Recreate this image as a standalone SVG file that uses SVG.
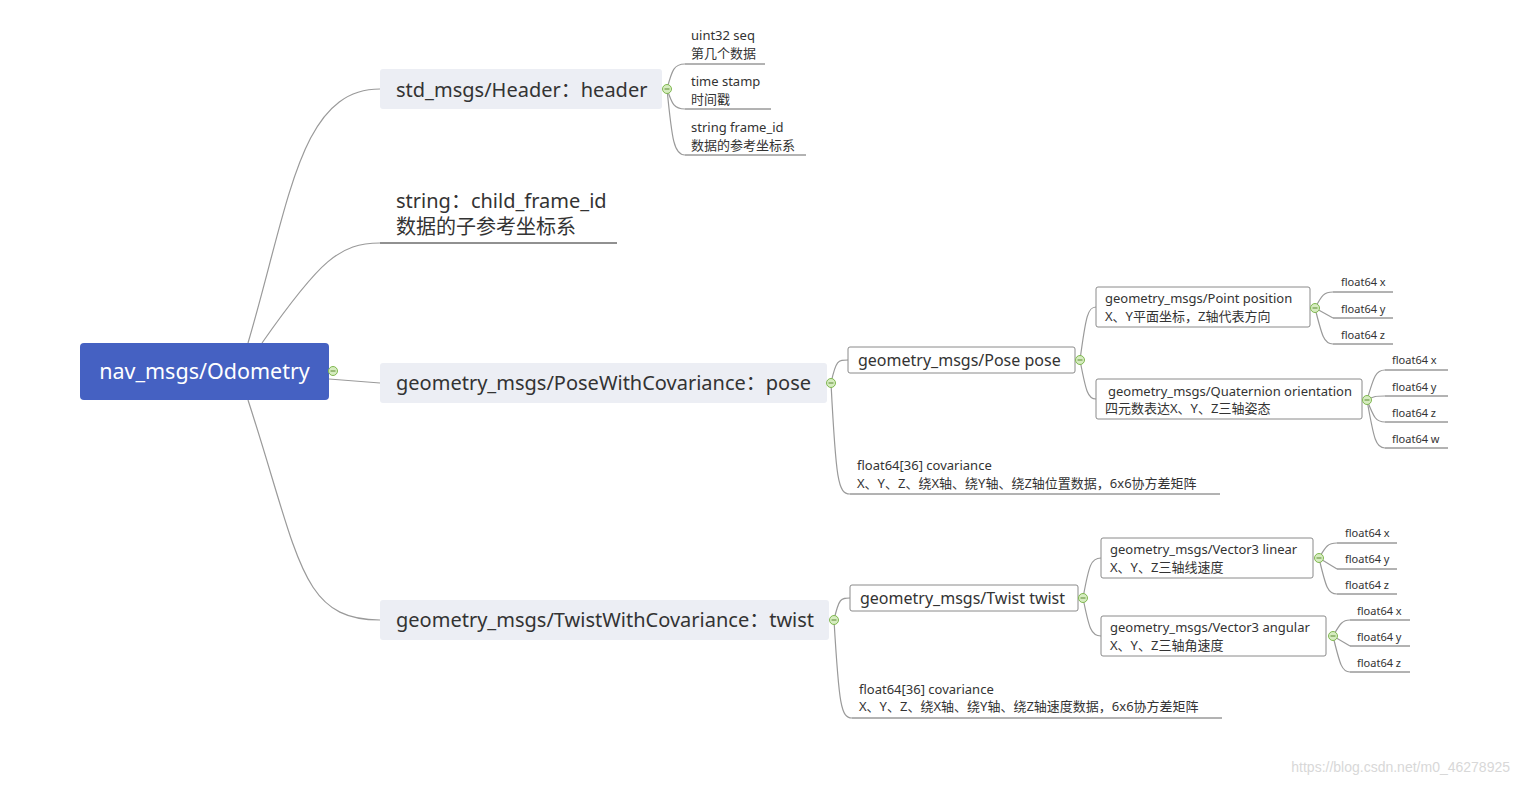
<svg xmlns="http://www.w3.org/2000/svg" width="1519" height="785" viewBox="0 0 1519 785">
<defs>
<style>
text{font-family:"Noto Sans","Noto Sans CJK SC",sans-serif;fill:#333}
.l1{font-size:20px}
.l2{font-size:16px}
.l3{font-size:13px}
.l4{font-size:11px}
.b1{fill:#eceef4}
.b2{fill:#fff;stroke:#8a8a8a;stroke-width:1}
.c{fill:none;stroke:#9a9a9a;stroke-width:1.2}
.u{fill:none;stroke:#666;stroke-width:1}
</style>
<g id="tog"><circle r="4.5" fill="#d6ecc0" stroke="#80b850" stroke-width="1"/><line x1="-2.5" y1="0" x2="2.5" y2="0" stroke="#5a8a30" stroke-width="1"/></g>
</defs>
<rect width="1519" height="785" fill="#fff"/>
<g id="connectors">
<path class="c" d="M248,343 C290,200 300,89 380,89"/>
<path class="c" d="M262,343 C320,260 340,243 380,243"/>
<path class="c" d="M329,379 L380,383"/>
<path class="c" d="M248,400 C300,560 300,620 380,620"/>
<path class="c" d="M667,89 C672,70 674,64 685,64"/>
<path class="c" d="M667,89 C672,104 674,109 685,109"/>
<path class="c" d="M667,89 C672,140 674,155 685,155"/>
<path class="c" d="M831,383 C836,360 838,360 848,360"/>
<path class="c" d="M831,383 C836,480 838,494 850,494"/>
<path class="c" d="M1080,360 C1086,315 1088,307 1096,307"/>
<path class="c" d="M1080,360 C1086,392 1088,399 1096,399"/>
<path class="c" d="M1315,308 C1322,295 1324,292 1333,292"/>
<path class="c" d="M1315,308 L1333,318"/>
<path class="c" d="M1315,308 C1322,336 1324,344 1333,344"/>
<path class="c" d="M1367,400 C1374,376 1376,370 1385,370"/>
<path class="c" d="M1367,400 C1374,396 1376,396 1385,396"/>
<path class="c" d="M1367,400 C1374,418 1376,422 1385,422"/>
<path class="c" d="M1367,400 C1374,440 1376,448 1385,448"/>
<path class="c" d="M834,620 C839,598 841,598 850,598"/>
<path class="c" d="M834,620 C839,705 841,718 852,718"/>
<path class="c" d="M1083,598 C1089,565 1091,558 1101,558"/>
<path class="c" d="M1083,598 C1089,628 1091,636 1101,636"/>
<path class="c" d="M1319,558 C1326,546 1328,543 1337,543"/>
<path class="c" d="M1319,558 L1337,569"/>
<path class="c" d="M1319,558 C1326,588 1328,594 1337,594"/>
<path class="c" d="M1333,636 C1340,624 1342,620 1350,620"/>
<path class="c" d="M1333,636 L1350,646"/>
<path class="c" d="M1333,636 C1340,665 1342,672 1350,672"/>
<g class="u">
<line x1="685" y1="64" x2="765" y2="64"/>
<line x1="685" y1="109" x2="771" y2="109"/>
<line x1="685" y1="155" x2="806" y2="155"/>
<line x1="380" y1="243" x2="617" y2="243" stroke="#222"/>
<line x1="850" y1="494" x2="1220" y2="494"/>
<line x1="852" y1="718" x2="1222" y2="718"/>
<line x1="1333" y1="292" x2="1393" y2="292"/>
<line x1="1333" y1="318" x2="1393" y2="318"/>
<line x1="1333" y1="344" x2="1393" y2="344"/>
<line x1="1385" y1="370" x2="1448" y2="370"/>
<line x1="1385" y1="396" x2="1448" y2="396"/>
<line x1="1385" y1="422" x2="1448" y2="422"/>
<line x1="1385" y1="448" x2="1448" y2="448"/>
<line x1="1337" y1="543" x2="1397" y2="543"/>
<line x1="1337" y1="569" x2="1397" y2="569"/>
<line x1="1337" y1="594" x2="1397" y2="594"/>
<line x1="1350" y1="620" x2="1410" y2="620"/>
<line x1="1350" y1="646" x2="1410" y2="646"/>
<line x1="1350" y1="672" x2="1410" y2="672"/>
</g>
</g>
<g id="root">
<rect x="80" y="343" width="249" height="57" rx="4" fill="#4561c2"/>
<text x="204.5" y="379" text-anchor="middle" style="fill:#fff;font-size:21.5px">nav_msgs/Odometry</text>
<use href="#tog" x="333" y="371"/>
</g>
<g id="header">
<rect class="b1" x="380" y="69" width="282" height="40" rx="3"/>
<text class="l1" x="396" y="97">std_msgs/Header：header</text>
<use href="#tog" x="667" y="89"/>
</g>
<g id="seq"><text class="l3" x="691" y="40">uint32 seq</text><text class="l3" x="691" y="58">第几个数据</text></g>
<g id="stamp"><text class="l3" x="691" y="86">time stamp</text><text class="l3" x="691" y="104">时间戳</text></g>
<g id="frame_id"><text class="l3" x="691" y="132">string frame_id</text><text class="l3" x="691" y="150">数据的参考坐标系</text></g>
<g id="child_frame"><text class="l1" x="396" y="208">string：child_frame_id</text><text class="l1" x="396" y="234">数据的子参考坐标系</text></g>
<g id="posecov">
<rect class="b1" x="380" y="363" width="447" height="40" rx="3"/>
<text class="l1" x="396" y="390">geometry_msgs/PoseWithCovariance：pose</text>
<use href="#tog" x="831" y="383"/>
</g>
<g id="pose">
<rect class="b2" x="848" y="347" width="227" height="26" rx="2"/>
<text class="l2" x="858" y="366">geometry_msgs/Pose pose</text>
<use href="#tog" x="1080" y="360"/>
</g>
<g id="position">
<rect class="b2" x="1096" y="287" width="214" height="40" rx="2"/>
<text class="l3" x="1105" y="303">geometry_msgs/Point position</text>
<text class="l3" x="1105" y="321">X、Y平面坐标，Z轴代表方向</text>
<use href="#tog" x="1315" y="308"/>
</g>
<g id="px"><text class="l4" x="1341" y="286">float64 x</text></g>
<g id="py"><text class="l4" x="1341" y="313">float64 y</text></g>
<g id="pz"><text class="l4" x="1341" y="339">float64 z</text></g>
<g id="orientation">
<rect class="b2" x="1096" y="379" width="266" height="40" rx="2"/>
<text class="l3" x="1108" y="396">geometry_msgs/Quaternion orientation</text>
<text class="l3" x="1105" y="413">四元数表达X、Y、Z三轴姿态</text>
<use href="#tog" x="1367" y="400"/>
</g>
<g id="ox"><text class="l4" x="1392" y="364">float64 x</text></g>
<g id="oy"><text class="l4" x="1392" y="391">float64 y</text></g>
<g id="oz"><text class="l4" x="1392" y="417">float64 z</text></g>
<g id="ow"><text class="l4" x="1392" y="443">float64 w</text></g>
<g id="posecovariance"><text class="l3" x="857" y="470">float64[36] covariance</text><text class="l3" x="857" y="488">X、Y、Z、绕X轴、绕Y轴、绕Z轴位置数据，6x6协方差矩阵</text></g>
<g id="twistcov">
<rect class="b1" x="380" y="600" width="449" height="40" rx="3"/>
<text class="l1" x="396" y="627">geometry_msgs/TwistWithCovariance：twist</text>
<use href="#tog" x="834" y="620"/>
</g>
<g id="twist">
<rect class="b2" x="850" y="585" width="228" height="26" rx="2"/>
<text class="l2" x="860" y="604">geometry_msgs/Twist twist</text>
<use href="#tog" x="1083" y="598"/>
</g>
<g id="linear">
<rect class="b2" x="1101" y="538" width="212" height="40" rx="2"/>
<text class="l3" x="1110" y="554">geometry_msgs/Vector3 linear</text>
<text class="l3" x="1110" y="572">X、Y、Z三轴线速度</text>
<use href="#tog" x="1319" y="558"/>
</g>
<g id="lx"><text class="l4" x="1345" y="537">float64 x</text></g>
<g id="ly"><text class="l4" x="1345" y="563">float64 y</text></g>
<g id="lz"><text class="l4" x="1345" y="589">float64 z</text></g>
<g id="angular">
<rect class="b2" x="1101" y="616" width="225" height="40" rx="2"/>
<text class="l3" x="1110" y="632">geometry_msgs/Vector3 angular</text>
<text class="l3" x="1110" y="650">X、Y、Z三轴角速度</text>
<use href="#tog" x="1333" y="636"/>
</g>
<g id="ax"><text class="l4" x="1357" y="615">float64 x</text></g>
<g id="ay"><text class="l4" x="1357" y="641">float64 y</text></g>
<g id="az"><text class="l4" x="1357" y="667">float64 z</text></g>
<g id="twistcovariance"><text class="l3" x="859" y="694">float64[36] covariance</text><text class="l3" x="859" y="711">X、Y、Z、绕X轴、绕Y轴、绕Z轴速度数据，6x6协方差矩阵</text></g>
<text x="1510" y="772" text-anchor="end" style="font-family:'Liberation Sans',sans-serif;font-size:14px;fill:#d8d8d8">https://blog.csdn.net/m0_46278925</text>
</svg>
